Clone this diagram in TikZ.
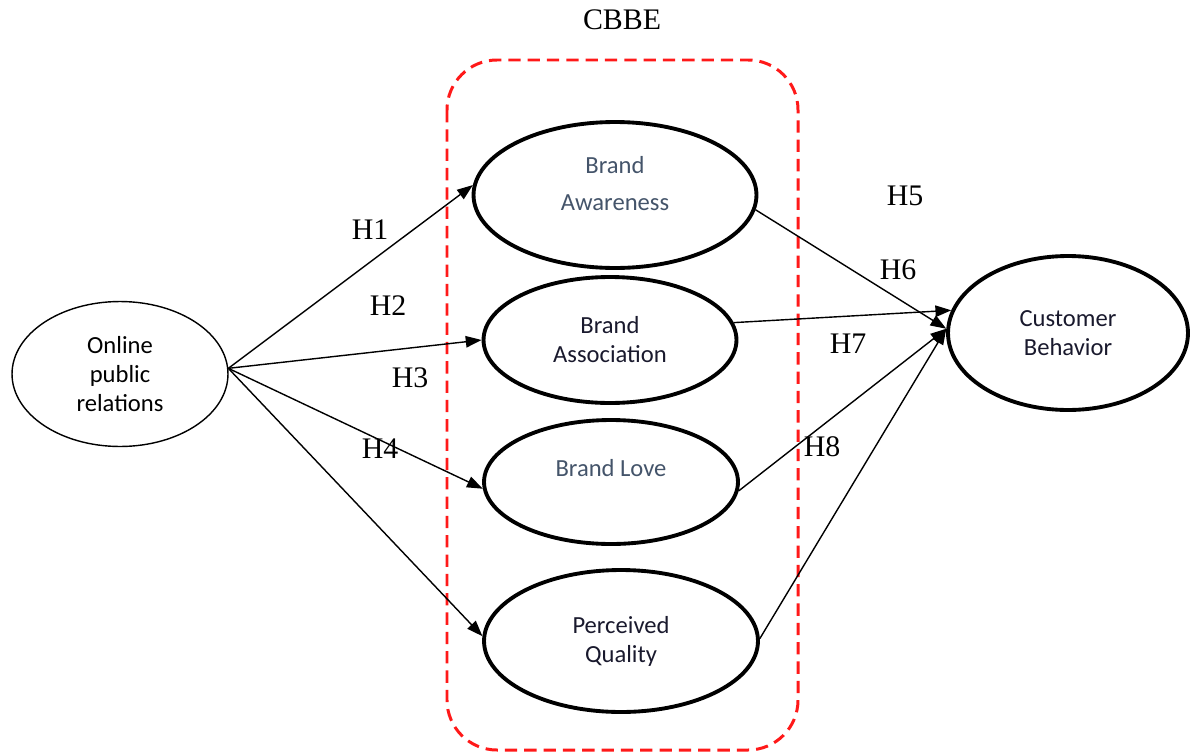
\documentclass[tikz,border=0pt]{standalone}
\usepackage{fontspec}
\setmainfont{Liberation Serif}
\setsansfont{Carlito}
\usetikzlibrary{arrows.meta, shapes.geometric}
\definecolor{DashRed}{rgb}{1.0, 0.1, 0.1}
\definecolor{SlateBlue}{RGB}{68,84,106}
\definecolor{InkBlack}{RGB}{25,25,45}

\begin{document}
\begin{tikzpicture}[x=0.02cm, y=-0.02cm,
    construct/.style={ellipse, draw, line width=2.2pt, inner sep=0pt, align=center,
                      text=InkBlack, font=\sffamily\fontsize{14}{16.5}\selectfont},
    hyp/.style={font=\fontsize{17}{20}\selectfont},
    link/.style={-{Triangle[length=9pt, width=6.5pt]}, line width=0.8pt}]
\useasboundingbox (0,0) rectangle (1190,754);

% ================= BLOQUE CBBE =================
\draw[DashRed, line width=1.7pt, dash pattern=on 7pt off 4pt, rounded corners=1cm]
    (447,60) rectangle (798,750);
\node[hyp] (cbbe) at (622,20) {CBBE};

% ================= CONSTRUCTOS =================
\node[construct, line width=0.8pt, text=black, minimum width=4.32cm, minimum height=2.9cm]
    (opr) at (120,374) {Online\\public\\relations};
\node[construct, text=SlateBlue, minimum width=5.66cm, minimum height=2.92cm,
      font=\sffamily\fontsize{14}{21}\selectfont]
    (aware) at (615,195) {Brand\\Awareness\\[-8pt]~};
\node[construct, minimum width=5.06cm, minimum height=2.52cm]
    (assoc) at (610,340) {Brand\\Association};
\node[construct, text=SlateBlue, minimum width=5.08cm, minimum height=2.48cm]
    (love) at (611,482) {Brand Love\\~};
\node[construct, minimum width=5.48cm, minimum height=2.84cm]
    (quality) at (621,641) {Perceived\\Quality};
\node[construct, minimum width=4.8cm, minimum height=3.08cm]
    (behav) at (1068,333) {Customer\\Behavior};

% ================= HIPOTESIS =================
\draw[link] (opr.3) -- (aware.176);
\draw[link] (opr.3) -- (assoc.180);
\draw[link] (opr.3) -- (love.183);
\draw[link] (opr.3) -- (quality.178);

\draw[link] (aware.354) -- (behav.178);
\draw[link] (assoc.8) -- (behav.169);
\draw[link] (love.356) -- (behav.178);
\draw[link] (quality.1) -- (behav.178);

% etiquetas
\node[hyp] (h1) at (370,230) {H1};
\node[hyp] (h2) at (388,306) {H2};
\node[hyp] (h3) at (410,378) {H3};
\node[hyp] (h4) at (380,449) {H4};
\node[hyp] (h5) at (905,196) {H5};
\node[hyp] (h6) at (898,270) {H6};
\node[hyp] (h7) at (848,344) {H7};
\node[hyp] (h8) at (822,447) {H8};

\end{tikzpicture}
\end{document}
